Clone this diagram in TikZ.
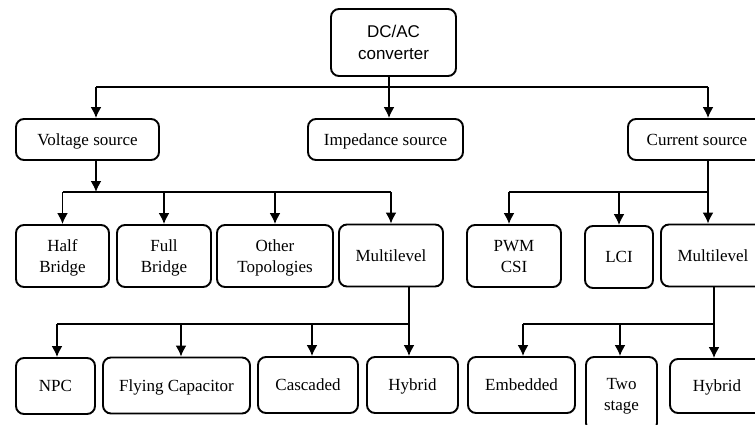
\documentclass[tikz,border=0pt]{standalone}
\usepackage{fontspec}
\setmainfont{Liberation Serif}
\setsansfont{Liberation Sans}
\usetikzlibrary{arrows.meta}
\begin{document}
\begin{tikzpicture}[x=1pt,y=-1pt,
  box/.style={draw, line width=1.9pt, rounded corners=8pt, inner sep=0pt, align=center,
    text depth=-2pt, font=\fontsize{17}{21}\selectfont},
  conn/.style={line width=1.8pt},
  arr/.style={conn, -{Latex[length=11pt,width=11pt]}}]
\useasboundingbox (0,0) rectangle (755,425);
\clip (0,0) rectangle (755,425);
% level 0
\node[box, font=\sffamily\fontsize{17}{22}\selectfont, minimum width=125pt, minimum height=67pt] (top) at (393.5,42.5) {DC/AC\\converter};
% level 1
\node[box, minimum width=143pt, minimum height=41pt] (VS) at (87.5,139.5) {Voltage source};
\node[box, minimum width=155pt, minimum height=41pt] (IS) at (385.5,139.5) {Impedance source};
\node[box, minimum width=138pt, minimum height=41pt] (CS) at (697,139.5) {Current source};
% level 2
\node[box, minimum width=93pt, minimum height=62pt] (HB) at (62.5,256) {Half\\Bridge};
\node[box, minimum width=94pt, minimum height=62pt] (FB) at (164,256) {Full\\Bridge};
\node[box, minimum width=116pt, minimum height=62pt] (OT) at (275,256) {Other\\Topologies};
\node[box, minimum width=104pt, minimum height=62pt] (ML1) at (391,255.5) {Multilevel};
\node[box, minimum width=94pt, minimum height=62pt] (PWM) at (514,256) {PWM\\CSI};
\node[box, minimum width=68pt, minimum height=62pt] (LCI) at (619,257) {LCI};
\node[box, minimum width=104pt, minimum height=62pt] (ML2) at (713,255.5) {Multilevel};
% level 3
\node[box, minimum width=79pt, minimum height=56pt] (NPC) at (55.5,386) {NPC};
\node[box, minimum width=147pt, minimum height=56pt] (FC) at (176.5,385.5) {Flying Capacitor};
\node[box, minimum width=100pt, minimum height=56pt] (Cas) at (308,385) {Cascaded};
\node[box, minimum width=91pt, minimum height=56pt] (Hyb1) at (412.5,385) {Hybrid};
\node[box, minimum width=107pt, minimum height=56pt] (Emb) at (521.5,385) {Embedded};
\node[box, minimum width=71pt, minimum height=74pt] (Two) at (621.5,394) {Two\\stage};
\node[box, minimum width=94pt, minimum height=54pt] (Hyb2) at (717,386) {Hybrid};
% bus coordinates
\coordinate (bus1) at (0,87);
\coordinate (bus2) at (0,192);
\coordinate (bus3) at (0,324);
\coordinate (vsin) at ([xshift=8.5pt]VS.north);
\coordinate (vsout) at ([xshift=8.5pt]VS.south);
\coordinate (csin) at ([xshift=11pt]CS.north);
\coordinate (csout) at ([xshift=11pt]CS.south);
\coordinate (fcin) at ([xshift=4.5pt]FC.north);
\coordinate (casin) at ([xshift=4pt]Cas.north);
\coordinate (m1out) at ([xshift=18pt]ML1.south);
\coordinate (pwmin) at ([xshift=-5pt]PWM.north);
\coordinate (embin) at ([xshift=1.5pt]Emb.north);
\coordinate (m2out) at ([xshift=1pt]ML2.south);
\coordinate (topout) at ([xshift=-4.5pt]top.south);
% level 0 -> 1
\draw[conn] (vsin |- bus1) -- (csin |- bus1);
\draw[arr] (topout) -- (topout |- IS.north);
\draw[arr] (vsin |- bus1) -- (vsin);
\draw[arr] (csin |- bus1) -- (csin);
% voltage source -> level 2
\draw[arr] (vsout) -- (vsout |- bus2);
\draw[conn] (HB.north |- bus2) -- (ML1.north |- bus2);
\draw[arr] (HB.north |- bus2) -- (HB.north);
\draw[arr] (FB.north |- bus2) -- (FB.north);
\draw[arr] (OT.north |- bus2) -- (OT.north);
\draw[arr] (ML1.north |- bus2) -- (ML1.north);
% current source -> level 2
\draw[conn] (csout) -- (csout |- bus2) -- (pwmin |- bus2);
\draw[arr] (pwmin |- bus2) -- (pwmin);
\draw[arr] (LCI.north |- bus2) -- (LCI.north);
\draw[arr] (csout |- bus2) -- (csout |- ML2.north);
% multilevel (VS) -> level 3
\draw[arr] (m1out) -- (m1out |- Hyb1.north);
\draw[conn] ([xshift=1.5pt]NPC.north |- bus3) -- (m1out |- bus3);
\draw[arr] ([xshift=1.5pt]NPC.north |- bus3) -- ([xshift=1.5pt]NPC.north);
\draw[arr] (fcin |- bus3) -- (fcin);
\draw[arr] (casin |- bus3) -- (casin);
% multilevel (CS) -> level 3
\draw[arr] (m2out) -- (m2out |- Hyb2.north);
\draw[conn] (embin |- bus3) -- (m2out |- bus3);
\draw[arr] (embin |- bus3) -- (embin);
\draw[arr] ([xshift=-1.5pt]Two.north |- bus3) -- ([xshift=-1.5pt]Two.north);
\end{tikzpicture}
\end{document}
